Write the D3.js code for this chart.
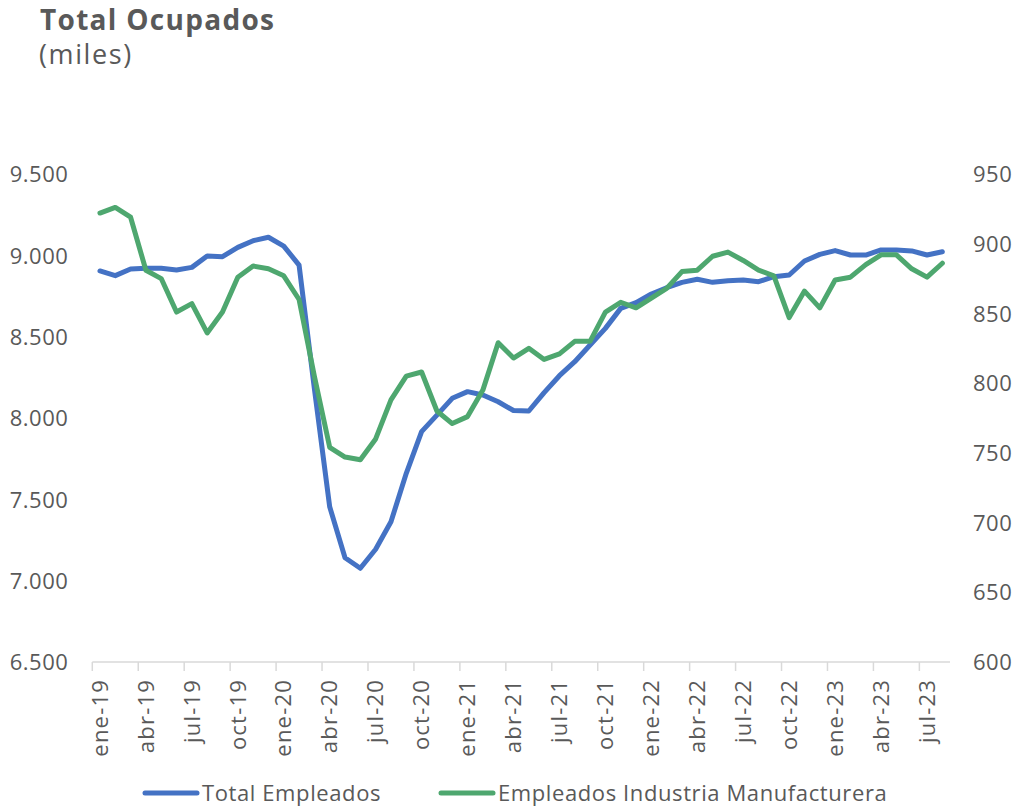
<!DOCTYPE html>
<html>
<head>
<meta charset="utf-8">
<script src="https://cdn.jsdelivr.net/npm/d3@7"></script>
<style>
  body { margin: 0; background: #fff; }
  svg text { font-family: "Open Sans", Lato, sans-serif; fill: #595959; }
</style>
</head>
<body>
<div id="chart"></div>
<script>
// meses y años del eje de categorías
const monthNames = ["ene", "feb", "mar", "abr", "may", "jun", "jul", "ago", "sep", "oct", "nov", "dic"];
const years = ["19", "20", "21", "22", "23"];
const categories = years.flatMap(y => monthNames.map(m => `${m}-${y}`)).slice(0, 56);

// Total Empleados (miles) - eje izquierdo
const totalEmpleados = [
  8904, 8875, 8916, 8920, 8920, 8910, 8926, 8996, 8992, 9049, 9090, 9111,
  9057, 8940, 8180, 7454, 7141, 7076, 7193, 7362, 7660, 7916, 8018, 8121,
  8162, 8141, 8100, 8046, 8043, 8156, 8260, 8346, 8449, 8551, 8674, 8709,
  8762, 8801, 8834, 8853, 8834, 8844, 8848, 8838, 8869, 8879, 8965, 9006,
  9029, 9002, 9002, 9033, 9033, 9027, 9002, 9022
];

// Empleados Industria Manufacturera (miles) - eje derecho
const empleadosManufactura = [
  922, 926, 919, 881, 875, 851, 857, 836, 851, 876, 884, 882,
  877, 860, 805, 754, 747, 745, 760, 788, 805, 808, 780, 771,
  776, 795, 829, 818, 825, 817, 821, 830, 830, 851, 858, 854,
  861, 868, 880, 881, 891, 894, 888, 881, 877, 847, 866, 854,
  874, 876, 885, 892, 892, 882, 876, 886
];

const leftTicks = [6500, 7000, 7500, 8000, 8500, 9000, 9500];
const rightTicks = [600, 650, 700, 750, 800, 850, 900, 950];

const width = 1025, height = 810;
const plot = { left: 92.3, right: 950, top: 174, bottom: 662 };
const blue = "#4472C4", green = "#4EA76F";

const svg = d3.select("#chart").append("svg")
  .attr("width", width)
  .attr("height", height);

// titulo
svg.append("text").attr("x", 40).attr("y", 30)
  .style("font-size", "28px").style("font-weight", "bold")
  .style("letter-spacing", "1.3px")
  .text("Total Ocupados");
svg.append("text").attr("x", 39).attr("y", 64)
  .style("font-size", "27px")
  .style("letter-spacing", "1.6px")
  .text("(miles)");

const x = d3.scaleBand().domain(categories).range([plot.left, plot.right]).padding(0);
const yLeft = d3.scaleLinear().domain([6500, 9500]).range([plot.bottom, plot.top]);
const yRight = d3.scaleLinear().domain([600, 950]).range([plot.bottom, plot.top]);
const cx = d => x(d) + x.bandwidth() / 2;

const fmt = d3.formatLocale({ decimal: ",", thousands: ".", grouping: [3], currency: ["", ""] }).format(",d");

// eje izquierdo
const gLeft = svg.append("g")
  .attr("transform", `translate(${plot.left - 24},0)`)
  .call(d3.axisLeft(yLeft).tickValues(leftTicks).tickFormat(fmt).tickSize(0).tickPadding(0));
gLeft.select(".domain").remove();
gLeft.selectAll("text").style("font-size", "22px").style("letter-spacing", "0.5px").attr("dy", "0.35em");

// eje derecho
const gRight = svg.append("g")
  .attr("transform", `translate(${plot.right + 23},0)`)
  .call(d3.axisRight(yRight).tickValues(rightTicks).tickSize(0).tickPadding(0));
gRight.select(".domain").remove();
gRight.selectAll("text").style("font-size", "22px").style("letter-spacing", "0.5px").attr("dy", "0.35em");

// eje x: marcas entre categorias cada 3 meses
const tickIdx = d3.range(0, categories.length, 3);
svg.append("line")
  .attr("x1", plot.left).attr("x2", plot.right).attr("y1", plot.bottom).attr("y2", plot.bottom)
  .attr("stroke", "#d9d9d9").attr("stroke-width", 1.5);
svg.append("g").selectAll("line")
  .data(tickIdx)
  .join("line")
  .attr("x1", i => x(categories[i])).attr("x2", i => x(categories[i]))
  .attr("y1", plot.bottom).attr("y2", plot.bottom + 9)
  .attr("stroke", "#d9d9d9").attr("stroke-width", 1.5);
svg.append("g").selectAll("text")
  .data(tickIdx)
  .join("text")
  .attr("transform", i => `translate(${cx(categories[i])},${plot.bottom + 17}) rotate(-90)`)
  .attr("text-anchor", "end")
  .attr("dy", "0.35em")
  .style("font-size", "22px")
  .style("letter-spacing", "1.2px")
  .text(i => categories[i]);

// lineas
const lineLeft = d3.line().x((d, i) => cx(categories[i])).y(d => yLeft(d));
const lineRight = d3.line().x((d, i) => cx(categories[i])).y(d => yRight(d));

svg.append("path")
  .datum(totalEmpleados)
  .attr("d", lineLeft)
  .attr("fill", "none").attr("stroke", blue).attr("stroke-width", 5)
  .attr("stroke-linejoin", "round").attr("stroke-linecap", "round");

svg.append("path")
  .datum(empleadosManufactura)
  .attr("d", lineRight)
  .attr("fill", "none").attr("stroke", green).attr("stroke-width", 5)
  .attr("stroke-linejoin", "round").attr("stroke-linecap", "round");

// leyenda
const legend = [
  { name: "Total Empleados", color: blue, x: 145 },
  { name: "Empleados Industria Manufacturera", color: green, x: 441 }
];
const lg = svg.append("g").selectAll("g").data(legend).join("g")
  .attr("transform", d => `translate(${d.x},793)`);
lg.append("line")
  .attr("x1", 0).attr("x2", 52).attr("y1", 0).attr("y2", 0)
  .attr("stroke", d => d.color).attr("stroke-width", 5).attr("stroke-linecap", "round");
lg.append("text")
  .attr("x", 57).attr("dy", "0.35em")
  .style("font-size", "22px")
  .style("letter-spacing", "0.6px")
  .text(d => d.name);
</script>
</body>
</html>
